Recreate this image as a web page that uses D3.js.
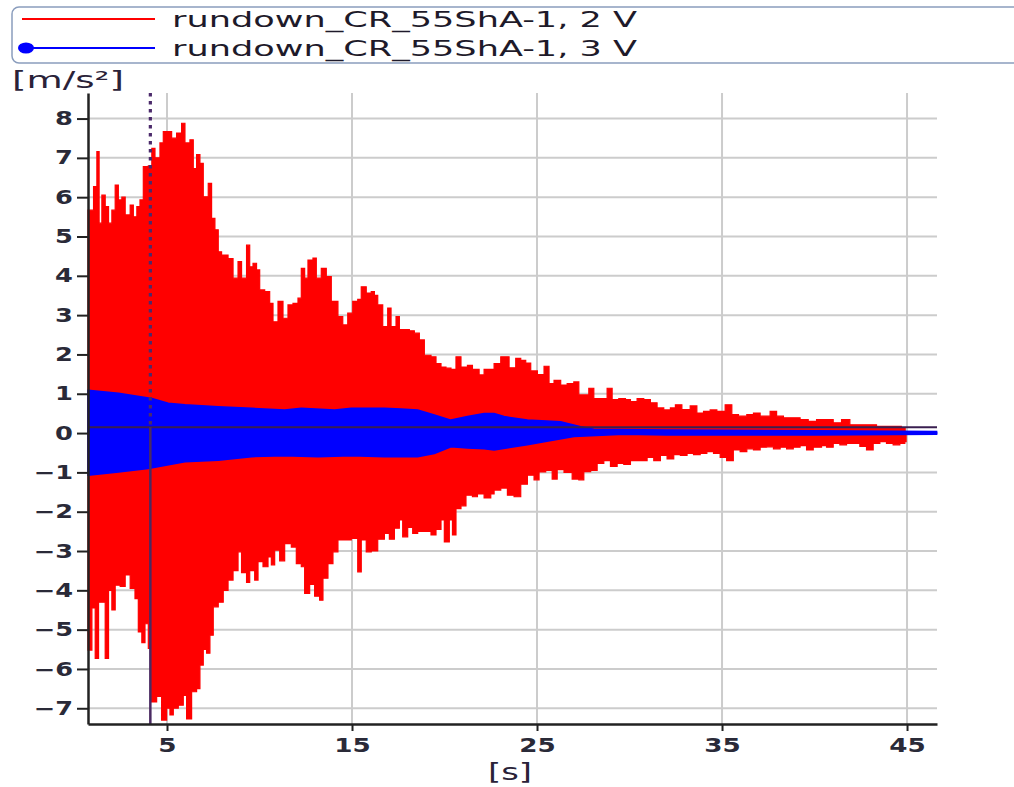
<!DOCTYPE html>
<html><head><meta charset="utf-8">
<script src="https://cdn.jsdelivr.net/npm/d3@7"></script>
<style>html,body{margin:0;padding:0;background:#fff;} svg{display:block;}</style>
</head><body>
<svg id="c" width="1014" height="787"></svg>
<script>
// ---------------- data ----------------
const seriesNames = ["rundown_CR_55ShA-1, 2 V", "rundown_CR_55ShA-1, 3 V"];
const seriesColors = ["#ff0000", "#0000ff"];
const xTickValues = [5, 15, 25, 35, 45];
const yTickValues = [-7, -6, -5, -4, -3, -2, -1, 0, 1, 2, 3, 4, 5, 6, 7, 8];
const yUnit = "[m/s\u00B2]";
const xUnit = "[s]";
const cursorT = 4.1;
const cursorV = 0.15;

// envelope of the 2 V signal (time [s], acceleration [m/s²])
const redUpper = [[0.73,5.67],[1.03,6.27],[1.21,7.16],[1.33,5.34],[1.48,6.05],[1.66,5.76],[1.84,5.34],[2.02,5.67],[2.20,6.31],[2.37,5.93],[2.56,6.00],[2.74,5.55],[3.01,5.80],[3.18,5.50],[3.37,5.76],[3.54,5.93],[3.72,6.78],[3.99,6.80],[4.18,7.24],[4.35,7.00],[4.62,7.38],[4.80,7.67],[5.07,7.67],[5.25,7.50],[5.52,7.63],[5.79,7.88],[5.97,7.38],[6.24,7.46],[6.42,6.73],[6.60,7.08],[6.78,6.86],[6.96,6.01],[7.23,6.35],[7.41,5.46],[7.59,5.17],[7.77,4.61],[7.95,4.53],[8.30,4.44],[8.57,3.94],[8.84,4.36],[9.03,3.94],[9.30,4.78],[9.47,4.23],[9.65,4.32],[9.84,4.15],[10.01,3.64],[10.28,3.60],[10.55,3.30],[10.73,2.83],[11.00,3.35],[11.27,2.92],[11.54,3.26],[11.81,3.30],[12.08,3.43],[12.26,4.19],[12.44,3.94],[12.62,4.40],[12.89,4.45],[13.07,3.94],[13.34,4.19],[13.61,3.98],[13.88,3.35],[14.06,3.35],[14.24,2.96],[14.50,2.75],[14.77,3.05],[15.04,3.35],[15.31,3.40],[15.50,3.72],[15.77,3.56],[16.04,3.60],[16.21,3.50],[16.39,3.26],[16.66,2.71],[16.93,3.18],[17.11,2.71],[17.38,2.96],[17.56,2.63],[17.83,2.63],[18.10,2.60],[18.37,2.54],[18.64,2.37],[18.91,1.98],[19.27,1.94],[19.54,1.77],[19.81,1.68],[20.08,1.65],[20.35,1.62],[20.62,1.94],[20.89,1.68],[21.24,1.72],[21.51,1.62],[21.87,1.48],[22.14,1.62],[22.41,1.62],[22.68,1.77],[23.04,1.94],[23.22,1.94],[23.49,1.66],[23.85,1.90],[24.12,1.85],[24.39,1.78],[24.66,1.58],[25.02,1.49],[25.38,1.70],[25.65,1.26],[25.92,1.34],[26.28,1.22],[26.63,1.26],[26.99,1.30],[27.26,0.97],[27.53,0.97],[27.80,1.14],[28.07,0.88],[28.43,0.88],[28.79,1.14],[29.06,0.85],[29.42,0.88],[29.78,0.85],[30.05,0.80],[30.41,0.88],[30.77,0.85],[31.13,0.77],[31.49,0.64],[31.85,0.59],[32.21,0.64],[32.48,0.72],[32.83,0.60],[33.28,0.69],[33.64,0.51],[34.00,0.55],[34.36,0.59],[34.72,0.55],[35.17,0.72],[35.53,0.47],[35.89,0.43],[36.34,0.47],[36.70,0.51],[37.06,0.43],[37.60,0.55],[37.95,0.43],[38.32,0.39],[38.76,0.39],[39.22,0.34],[39.66,0.30],[40.11,0.34],[40.56,0.34],[41.01,0.26],[41.46,0.34],[41.91,0.21],[42.45,0.21],[42.90,0.21],[43.35,0.17],[43.80,0.17],[44.25,0.17],[44.69,0.13],[44.90,0.13]];
const redLower = [[0.73,-5.52],[0.94,-4.45],[1.12,-5.73],[1.30,-4.30],[1.48,-4.30],[1.66,-5.73],[1.84,-4.00],[2.02,-4.50],[2.20,-3.87],[2.47,-3.90],[2.74,-3.61],[3.01,-3.95],[3.27,-4.21],[3.45,-5.06],[3.64,-5.33],[3.81,-4.85],[3.99,-5.48],[4.14,-6.84],[4.44,-6.70],[4.71,-7.30],[4.98,-7.00],[5.16,-7.17],[5.34,-7.00],[5.61,-6.92],[5.88,-6.67],[6.06,-7.27],[6.33,-6.58],[6.60,-6.50],[6.78,-5.90],[6.96,-5.50],[7.14,-5.60],[7.32,-5.14],[7.50,-4.42],[7.77,-4.30],[8.04,-4.00],[8.30,-3.74],[8.57,-3.50],[8.84,-3.02],[9.03,-3.55],[9.30,-3.80],[9.47,-3.50],[9.74,-3.74],[9.92,-3.27],[10.19,-3.40],[10.46,-3.15],[10.64,-3.35],[10.82,-2.98],[11.09,-3.25],[11.36,-2.81],[11.72,-2.90],[11.99,-3.32],[12.26,-3.40],[12.44,-4.08],[12.71,-3.85],[12.98,-4.15],[13.25,-4.25],[13.43,-3.69],[13.70,-3.32],[13.97,-3.02],[14.24,-2.72],[14.60,-2.72],[14.96,-2.68],[15.31,-3.53],[15.50,-2.72],[15.77,-3.02],[16.04,-3.00],[16.39,-2.70],[16.75,-2.55],[17.02,-2.70],[17.29,-2.42],[17.56,-2.21],[17.74,-2.64],[18.01,-2.40],[18.28,-2.55],[18.55,-2.50],[18.91,-2.50],[19.27,-2.59],[19.54,-2.45],[19.81,-2.21],[19.99,-2.77],[20.26,-2.21],[20.43,-2.59],[20.62,-1.92],[20.89,-1.85],[21.16,-1.58],[21.51,-1.62],[21.78,-1.55],[22.14,-1.65],[22.50,-1.55],[22.68,-1.45],[23.04,-1.40],[23.40,-1.58],[23.76,-1.62],[24.12,-1.30],[24.48,-1.07],[24.84,-1.19],[25.11,-0.99],[25.47,-0.95],[25.82,-1.17],[26.09,-0.93],[26.46,-1.00],[26.90,-1.17],[27.26,-1.19],[27.53,-0.98],[27.90,-0.95],[28.25,-0.77],[28.61,-0.70],[28.97,-0.85],[29.33,-0.77],[29.69,-0.80],[30.05,-0.70],[30.59,-0.70],[30.95,-0.62],[31.31,-0.70],[31.67,-0.57],[32.03,-0.66],[32.39,-0.55],[32.75,-0.57],[33.11,-0.52],[33.46,-0.55],[33.82,-0.52],[34.18,-0.47],[34.54,-0.52],[34.90,-0.62],[35.25,-0.70],[35.61,-0.43],[35.98,-0.47],[36.34,-0.40],[36.70,-0.43],[37.06,-0.36],[37.41,-0.35],[37.78,-0.40],[38.14,-0.36],[38.49,-0.40],[38.85,-0.36],[39.22,-0.32],[39.57,-0.43],[39.93,-0.36],[40.38,-0.32],[40.65,-0.36],[41.01,-0.26],[41.37,-0.30],[41.73,-0.26],[42.09,-0.26],[42.45,-0.34],[42.81,-0.43],[43.17,-0.26],[43.53,-0.22],[43.89,-0.26],[44.25,-0.30],[44.61,-0.26],[44.88,-0.22],[44.95,-0.22]];
// envelope of the 3 V signal
const blueUpper = [[0.73,1.09],[2.38,1.01],[4.18,0.88],[5.07,0.76],[5.97,0.72],[7.77,0.67],[9.57,0.63],[11.36,0.59],[12.26,0.63],[14.06,0.59],[14.96,0.63],[16.75,0.63],[17.65,0.61],[18.55,0.59],[19.45,0.46],[20.35,0.33],[21.24,0.42],[22.14,0.50],[22.68,0.50],[23.22,0.42],[24.48,0.33],[26.28,0.29],[27.36,0.16],[28.07,0.10],[32.0,0.08],[40.0,0.06],[46.6,0.04]];
const blueLower = [[0.73,-1.07],[2.38,-0.99],[3.99,-0.90],[5.97,-0.73],[7.77,-0.69],[9.57,-0.60],[11.36,-0.58],[13.16,-0.60],[14.96,-0.58],[16.75,-0.60],[18.55,-0.60],[19.45,-0.52],[20.35,-0.35],[21.24,-0.38],[22.14,-0.40],[22.68,-0.43],[24.48,-0.30],[25.38,-0.22],[27.0,-0.09],[29.7,-0.03],[32.0,-0.05],[40.0,-0.05],[46.6,-0.03]];

// ---------------- drawing ----------------
const svg = d3.select("#c");
const FONT = "'DejaVu Sans', Verdana, sans-serif";
const pLeft = 88, pRight = 937, pTop = 93, pBottom = 724;
const x = d3.scaleLinear().domain([0.73, 46.62]).range([pLeft, pRight]);
const y = d3.scaleLinear().domain([-7.4, 8.65]).range([pBottom, pTop]);

function stretch(sel, f) {
  sel.each(function () {
    const w = this.getComputedTextLength();
    this.setAttribute("textLength", (w * f).toFixed(1));
    this.setAttribute("lengthAdjust", "spacingAndGlyphs");
  });
}

// grid
const grid = svg.append("g");
grid.selectAll("line.h").data(yTickValues).join("line")
  .attr("x1", pLeft).attr("x2", pRight)
  .attr("y1", d => y(d)).attr("y2", d => y(d))
  .attr("stroke", "#cccccc").attr("stroke-width", 2);
grid.selectAll("line.v").data(xTickValues).join("line")
  .attr("x1", d => x(d)).attr("x2", d => x(d))
  .attr("y1", pTop).attr("y2", pBottom)
  .attr("stroke", "#cccccc").attr("stroke-width", 2);

// series
const areaStep = d3.area().x(d => x(d[0])).y0(y(0)).y1(d => y(d[1])).curve(d3.curveStepAfter);
const areaLin = d3.area().x(d => x(d[0])).y0(y(0)).y1(d => y(d[1])).curve(d3.curveLinear);
const plot = svg.append("g");
[redUpper, redLower].forEach(arr => {
  plot.append("path").attr("d", areaStep(arr)).attr("fill", seriesColors[0])
    .attr("stroke", seriesColors[0]).attr("stroke-width", 1.2);
});
[blueUpper, blueLower].forEach(arr => {
  plot.append("path").attr("d", areaLin(arr)).attr("fill", seriesColors[1])
    .attr("stroke", seriesColors[1]).attr("stroke-width", 1.5);
});

// cursors
svg.append("line").attr("x1", pLeft).attr("x2", pRight)
  .attr("y1", y(cursorV)).attr("y2", y(cursorV))
  .attr("stroke", "#3a1f50").attr("stroke-width", 2);
svg.append("line").attr("x1", x(cursorT)).attr("x2", x(cursorT))
  .attr("y1", pTop).attr("y2", y(cursorV))
  .attr("stroke", "#4b2a6b").attr("stroke-width", 3.2).attr("stroke-dasharray", "3.5,4.5");
svg.append("line").attr("x1", x(cursorT)).attr("x2", x(cursorT))
  .attr("y1", y(cursorV)).attr("y2", pBottom)
  .attr("stroke", "#4a2a62").attr("stroke-width", 2.5);

// axes
const yAxis = svg.append("g").attr("transform", `translate(${pLeft},0)`)
  .call(d3.axisLeft(y).tickValues(yTickValues).tickSize(11).tickSizeOuter(0).tickPadding(4).tickFormat(d3.format("d")));
const xAxis = svg.append("g").attr("transform", `translate(0,${pBottom})`)
  .call(d3.axisBottom(x).tickValues(xTickValues).tickSize(7).tickSizeOuter(0).tickPadding(8).tickFormat(d3.format("d")));
[yAxis, xAxis].forEach(a => {
  a.select(".domain").attr("stroke", "#222").attr("stroke-width", 2.5);
  a.selectAll(".tick line").attr("stroke", "#222").attr("stroke-width", 2);
  a.selectAll(".tick text").attr("fill", "#2a2a38").style("font-family", FONT)
    .style("font-size", "19px").style("font-weight", "bold");
});
yAxis.selectAll(".tick text").call(stretch, 1.35);
xAxis.selectAll(".tick text").call(stretch, 1.38);

// unit labels
svg.append("text").attr("x", 12).attr("y", 88).text(yUnit)
  .attr("fill", "#2a2238").style("font-family", FONT).style("font-size", "23px")
  .attr("textLength", 112).attr("lengthAdjust", "spacingAndGlyphs");
svg.append("text").attr("x", 488).attr("y", 780).text(xUnit)
  .attr("fill", "#2a2238").style("font-family", FONT).style("font-size", "23px")
  .attr("textLength", 44).attr("lengthAdjust", "spacingAndGlyphs");

// legend
const lg = svg.append("g");
lg.append("rect").attr("x", 12).attr("y", 7).attr("width", 1010).attr("height", 56)
  .attr("rx", 7).attr("fill", "#fff").attr("stroke", "#8a9dbd").attr("stroke-width", 1.5);
const legendRows = [19, 48];
seriesNames.forEach((name, i) => {
  lg.append("line").attr("x1", 22).attr("x2", 155)
    .attr("y1", legendRows[i]).attr("y2", legendRows[i])
    .attr("stroke", seriesColors[i]).attr("stroke-width", 2);
  if (i === 1) {
    lg.append("ellipse").attr("cx", 26).attr("cy", legendRows[i]).attr("rx", 8).attr("ry", 5.5)
      .attr("fill", seriesColors[i]);
  }
  lg.append("text").attr("x", 172).attr("y", legendRows[i] + 8).text(name)
    .attr("fill", "#1e1a2a").style("font-family", FONT).style("font-size", "21px")
    .attr("textLength", 465).attr("lengthAdjust", "spacingAndGlyphs");
});
</script>
</body></html>
